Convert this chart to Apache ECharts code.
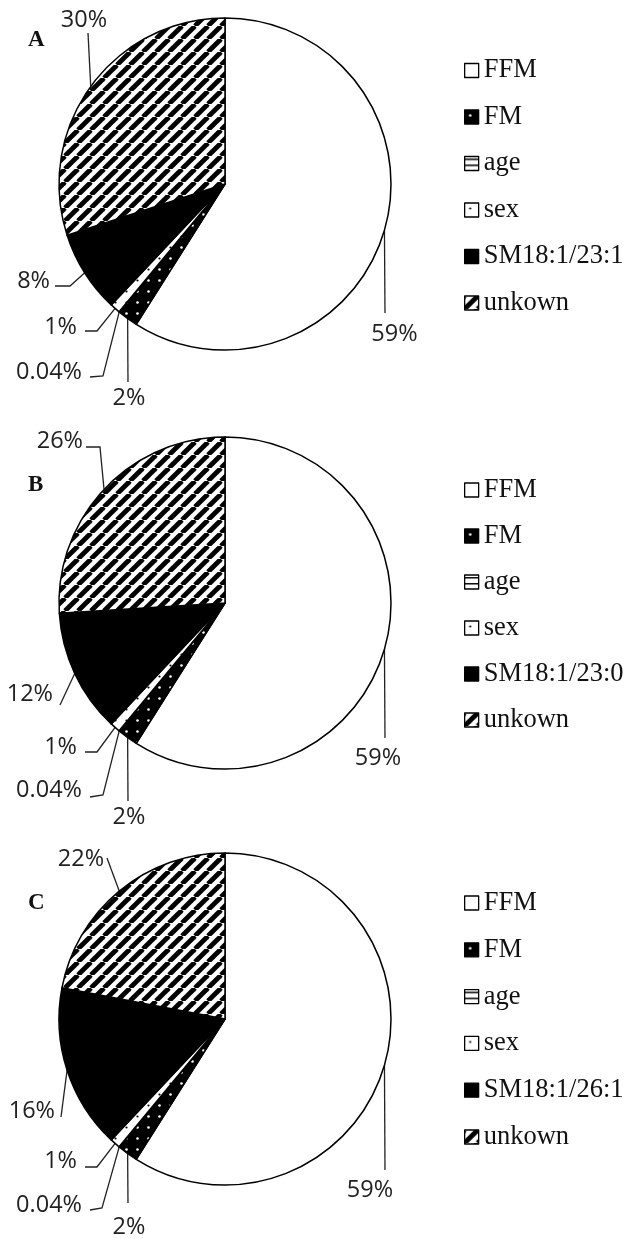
<!DOCTYPE html>
<html><head><meta charset="utf-8">
<script src="https://cdn.jsdelivr.net/npm/echarts@6/dist/echarts.min.js"></script>
<style>html,body{margin:0;padding:0;background:#fff}#c{width:629px;height:1239px}</style>
</head><body><div id="c"></div>
<script>
// ---- data ----
const categories = ['FFM', 'FM', 'age', 'sex', 'SM', 'unkown'];
const smLabels = ['SM18:1/23:1', 'SM18:1/23:0', 'SM18:1/26:1'];
const panelLetters = ['A', 'B', 'C'];
const valuesA = [59, 2, 0.04, 1, 8, 30];
const valuesB = [59, 2, 0.04, 1, 12, 26];
const valuesC = [59, 2, 0.04, 1, 16, 22];

// ---- layout / style config ----
const allValues = [valuesA, valuesB, valuesC];
const centers = [[225, 184], [225, 603], [225, 1019]];
const radius = 166;
const legendTops = [56.5, 476, 889];
const legendGaps = [18.5, 18, 18.8];
const letterYs = [40, 485, 903];
// per panel, per slice: t = text anchor offset from centre, a = align, b = bend point, e = end point
const labelCfg = [
  [
    {t: [169.5, 150], a: 'center', b: [160, 129], e: [160, 129]},
    {t: [-96, 214], a: 'center', b: [-97, 198], e: [-97, 198]},
    {t: [-143, 188], a: 'right', b: [-122, 192], e: [-135, 193]},
    {t: [-148, 143], a: 'right', b: [-128, 147], e: [-140, 147]},
    {t: [-175, 97], a: 'right', b: [-155, 102], e: [-170, 102]},
    {t: [-141, -164], a: 'center', b: [-137, -151], e: [-137, -151]}
  ],
  [
    {t: [153, 155], a: 'center', b: [160, 135], e: [160, 135]},
    {t: [-96, 214], a: 'center', b: [-97, 198], e: [-97, 198]},
    {t: [-143, 187], a: 'right', b: [-122, 192], e: [-135, 194]},
    {t: [-148, 144], a: 'right', b: [-128, 149], e: [-140, 149]},
    {t: [-172, 91], a: 'right', b: [-165, 102], e: [-165, 102]},
    {t: [-142, -162], a: 'right', b: [-125, -156], e: [-139, -156]}
  ],
  [
    {t: [145, 171], a: 'center', b: [160, 151], e: [160, 151]},
    {t: [-96, 208], a: 'center', b: [-97, 184], e: [-97, 184]},
    {t: [-143, 186], a: 'right', b: [-123, 189], e: [-135, 191]},
    {t: [-148, 142], a: 'right', b: [-128, 148], e: [-140, 148]},
    {t: [-170, 92], a: 'right', b: [-164, 98], e: [-164, 98]},
    {t: [-144, -160], a: 'center', b: [-118, -161], e: [-118, -161]}
  ]
];

function makeCanvas(w, h, draw) {
  const c = document.createElement('canvas');
  c.width = w; c.height = h;
  draw(c.getContext('2d'));
  return c;
}
const hatchCanvas = makeCanvas(13, 13, ctx => {
  ctx.fillStyle = '#fff'; ctx.fillRect(0, 0, 13, 13);
  ctx.strokeStyle = '#000'; ctx.lineWidth = 4.8;
  for (const o of [-13, 0, 13]) { ctx.beginPath(); ctx.moveTo(o, 13); ctx.lineTo(o + 13, 0); ctx.stroke(); }
});
const fmCanvas = makeCanvas(11, 11, ctx => {
  ctx.fillStyle = '#000'; ctx.fillRect(0, 0, 11, 11);
  ctx.fillStyle = '#fff'; ctx.beginPath(); ctx.arc(5.5, 5.5, 1.3, 0, Math.PI * 2); ctx.fill();
});
const sexCanvas = makeCanvas(11, 11, ctx => {
  ctx.fillStyle = '#fff'; ctx.fillRect(0, 0, 11, 11);
  ctx.fillStyle = '#000'; ctx.beginPath(); ctx.arc(5.5, 5.5, 1.1, 0, Math.PI * 2); ctx.fill();
});
const ageCanvas = makeCanvas(6, 6, ctx => {
  ctx.fillStyle = '#fff'; ctx.fillRect(0, 0, 6, 6);
  ctx.fillStyle = '#000'; ctx.fillRect(0, 2, 6, 1.5);
});
const fills = [
  '#ffffff',
  {image: fmCanvas, repeat: 'repeat'},
  {image: ageCanvas, repeat: 'repeat'},
  {image: sexCanvas, repeat: 'repeat'},
  '#000000',
  {image: hatchCanvas, repeat: 'repeat'}
];

const names = smLabels.map(sm => categories.map(c => c === 'SM' ? sm : c));

const chart = echarts.init(document.getElementById('c'), null, {renderer: 'canvas', width: 629, height: 1239});

const series = allValues.map((vals, p) => ({
  type: 'pie',
  center: centers[p],
  radius: radius,
  startAngle: 90,
  clockwise: true,
  avoidLabelOverlap: false,
  silent: true,
  animation: false,
  data: vals.map((v, i) => ({name: names[p][i], value: v, itemStyle: {color: fills[i]}})),
  itemStyle: {borderColor: '#000', borderWidth: 1.5},
  emphasis: {disabled: true},
  label: {
    show: true,
    formatter: d => d.value + '%',
    fontFamily: '"Open Sans", sans-serif',
    fontSize: 23.5,
    color: '#222'
  },
  labelLine: {show: true, length: 10, length2: 10, lineStyle: {color: '#222', width: 1.3}},
  labelLayout: params => {
    const cfg = labelCfg[p][params.dataIndex];
    const cx = centers[p][0], cy = centers[p][1];
    const start = (params.labelLinePoints && params.labelLinePoints[0]) || [cx, cy];
    return {
      x: cx + cfg.t[0],
      y: cy + cfg.t[1],
      align: cfg.a,
      verticalAlign: 'middle',
      labelLinePoints: [
        [start[0], start[1]],
        [cx + cfg.b[0], cy + cfg.b[1]],
        [cx + cfg.e[0], cy + cfg.e[1]]
      ]
    };
  }
}));

const legends = [0, 1, 2].map(p => ({
  orient: 'vertical',
  left: 464,
  top: legendTops[p],
  itemGap: legendGaps[p],
  itemWidth: 14,
  itemHeight: 14,
  icon: 'rect',
  padding: 0,
  selectedMode: false,
  data: names[p],
  itemStyle: {borderColor: '#000', borderWidth: 1.3},
  textStyle: {fontFamily: '"Liberation Serif", serif', fontSize: 26.5, color: '#111', lineHeight: 28}
}));

chart.setOption({
  backgroundColor: '#fff',
  animation: false,
  legend: legends,
  series: series,
  graphic: panelLetters.map((t, p) => ({
    type: 'text', x: 28, y: letterYs[p],
    style: {text: t, font: 'bold 23px "Liberation Serif", serif', fill: '#111', verticalAlign: 'middle'}
  }))
});
</script>
</body></html>
